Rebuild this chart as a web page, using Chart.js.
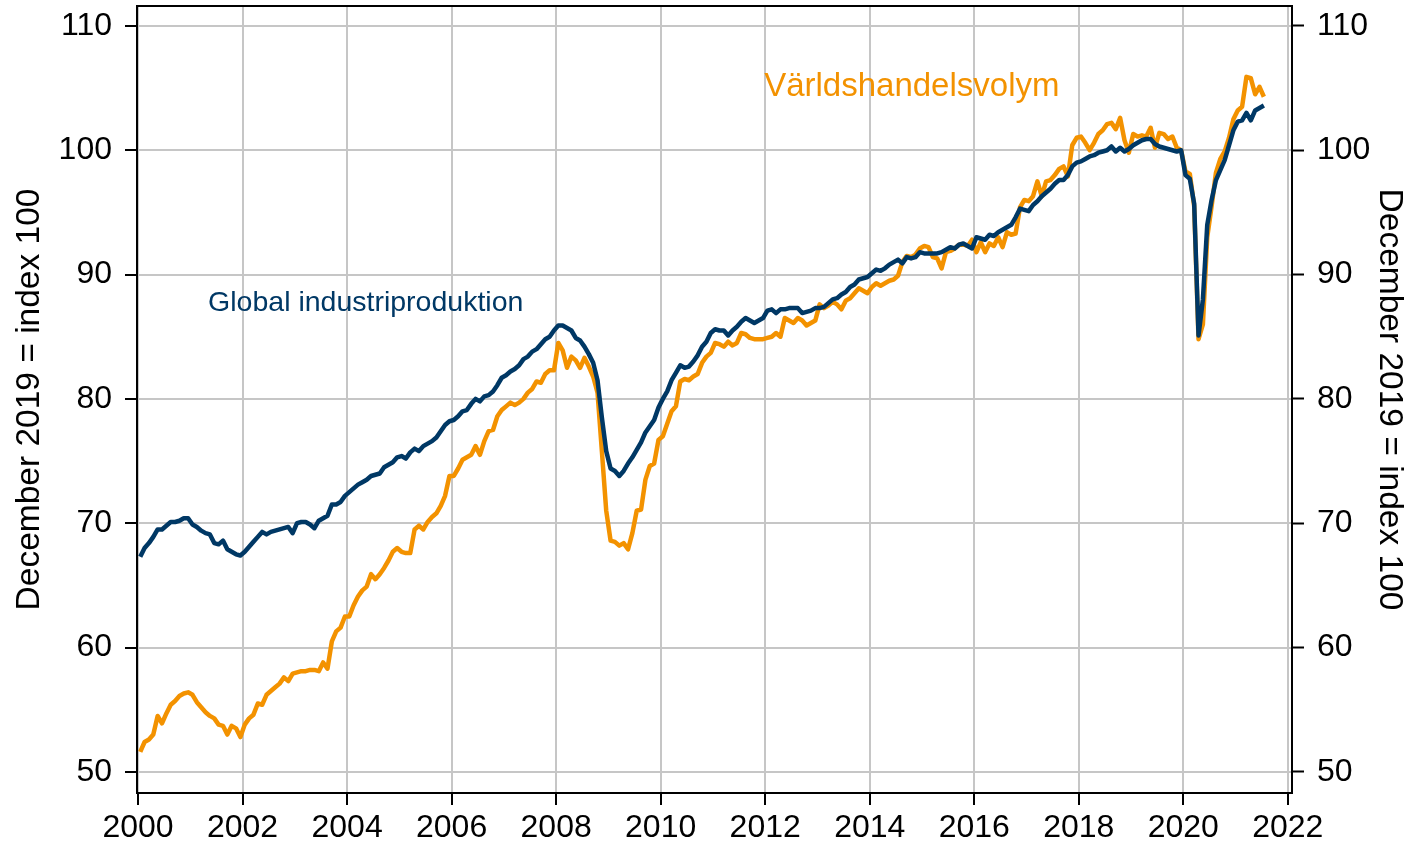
<!DOCTYPE html>
<html>
<head>
<meta charset="utf-8">
<title>Världshandel och industriproduktion</title>
<script src="https://cdn.jsdelivr.net/npm/chart.js@4.4.1/dist/chart.umd.min.js"></script>
<style>
  body { margin: 0; background: #fff; }
  #mycanvas { display: block; }
</style>
</head>
<body>
<canvas id="mycanvas" width="1409" height="846"></canvas>
<script>
// monthly data, Jan 2000 - Jul 2021, December 2019 = 100
var startYear = 2000;
var xTicks = [2000, 2002, 2004, 2006, 2008, 2010, 2012, 2014, 2016, 2018, 2020, 2022];
var yTicks = [50, 60, 70, 80, 90, 100, 110];

var industriproduktion = [
  67.3, 68.0, 68.4, 68.9, 69.5, 69.5, 69.8, 70.1, 70.1, 70.2, 70.4, 70.4,
  69.9, 69.7, 69.4, 69.2, 69.1, 68.4, 68.3, 68.6, 67.9, 67.7, 67.5, 67.4,
  67.7, 68.1, 68.5, 68.9, 69.3, 69.1, 69.3, 69.4, 69.5, 69.6, 69.7, 69.2,
  70.0, 70.1, 70.1, 69.9, 69.6, 70.2, 70.4, 70.6, 71.5, 71.5, 71.7, 72.2,
  72.5, 72.8, 73.1, 73.3, 73.5, 73.8, 73.9, 74.0, 74.5, 74.7, 74.9, 75.3,
  75.4, 75.2, 75.7, 76.0, 75.8, 76.2, 76.4, 76.6, 76.9, 77.4, 77.9, 78.2,
  78.3, 78.6, 79.0, 79.1, 79.6, 80.0, 79.8, 80.2, 80.3, 80.6, 81.1, 81.7,
  81.9, 82.2, 82.4, 82.7, 83.2, 83.4, 83.8, 84.0, 84.4, 84.8, 85.0, 85.5,
  85.9, 85.9, 85.7, 85.5, 84.9, 84.7, 84.2, 83.6, 82.9, 81.5, 78.5, 75.8,
  74.4, 74.2, 73.8, 74.2, 74.8, 75.3, 75.9, 76.5, 77.3, 77.8, 78.3, 79.3,
  80.0, 80.6, 81.5, 82.1, 82.7, 82.5, 82.6, 83.0, 83.5, 84.2, 84.6, 85.3,
  85.6, 85.5, 85.5, 85.1, 85.5, 85.8, 86.2, 86.5, 86.3, 86.1, 86.3, 86.5,
  87.1, 87.2, 86.9, 87.2, 87.2, 87.3, 87.3, 87.3, 86.9, 87.0, 87.1, 87.3,
  87.3, 87.4, 87.7, 88.0, 88.1, 88.4, 88.6, 89.0, 89.2, 89.6, 89.7, 89.8,
  90.1, 90.4, 90.3, 90.5, 90.8, 91.0, 91.2, 90.9, 91.4, 91.3, 91.4, 91.8,
  91.7, 91.7, 91.7, 91.7, 91.8, 92.0, 92.2, 92.1, 92.4, 92.5, 92.3, 92.1,
  93.0, 92.9, 92.8, 93.2, 93.1, 93.4, 93.6, 93.8, 94.0, 94.6, 95.3, 95.2,
  95.1, 95.6, 95.9, 96.3, 96.6, 96.9, 97.3, 97.6, 97.6, 98.0, 98.7, 99.0,
  99.1, 99.3, 99.5, 99.6, 99.8, 99.9, 100.0, 100.3, 99.9, 100.2, 99.9, 100.1,
  100.4, 100.6, 100.8, 100.9, 100.9, 100.5, 100.3, 100.2, 100.1, 100.0, 99.9, 100.0,
  98.0, 97.7, 95.7, 85.1, 88.0, 94.0, 96.0, 97.6, 98.4, 99.2, 100.4, 101.6,
  102.3, 102.4, 103.0, 102.4, 103.2, 103.4, 103.6
];

var handelsvolym = [
  51.6, 52.4, 52.6, 53.0, 54.5, 53.9, 54.7, 55.4, 55.7, 56.1, 56.3, 56.4,
  56.2, 55.6, 55.2, 54.8, 54.5, 54.3, 53.8, 53.7, 53.0, 53.7, 53.5, 52.8,
  53.8, 54.3, 54.6, 55.5, 55.4, 56.2, 56.5, 56.8, 57.1, 57.6, 57.3, 57.9,
  58.0, 58.1, 58.1, 58.2, 58.2, 58.1, 58.8, 58.3, 60.5, 61.3, 61.6, 62.5,
  62.5, 63.4, 64.1, 64.6, 64.9, 65.9, 65.5, 65.9, 66.4, 67.0, 67.7, 68.0,
  67.7, 67.6, 67.6, 69.5, 69.8, 69.5, 70.1, 70.5, 70.8, 71.4, 72.2, 73.8,
  73.8, 74.4, 75.1, 75.3, 75.5, 76.2, 75.5, 76.6, 77.4, 77.5, 78.6, 79.1,
  79.4, 79.7, 79.5, 79.7, 80.0, 80.5, 80.8, 81.4, 81.3, 82.0, 82.3, 82.3,
  84.5, 83.9, 82.5, 83.4, 83.1, 82.5, 83.3, 82.6, 81.8, 80.5, 75.8, 71.0,
  68.6, 68.5, 68.2, 68.4, 67.9, 69.2, 71.0, 71.1, 73.5, 74.6, 74.8, 76.7,
  77.0, 78.0, 79.0, 79.4, 81.4, 81.6, 81.5, 81.8, 82.0, 82.9, 83.4, 83.7,
  84.5, 84.4, 84.2, 84.6, 84.3, 84.5, 85.3, 85.2, 84.9, 84.8, 84.8, 84.8,
  84.9, 85.0, 85.3, 85.0, 86.5, 86.3, 86.1, 86.5, 86.3, 85.9, 86.1, 86.3,
  87.6, 87.3, 87.5, 87.8, 87.6, 87.2, 87.9, 88.1, 88.5, 88.9, 88.7, 88.5,
  89.0, 89.3, 89.1, 89.3, 89.5, 89.6, 89.9, 91.0, 91.5, 91.4, 91.6, 92.1,
  92.3, 92.2, 91.4, 91.3, 90.5, 91.8, 91.9, 92.1, 92.4, 92.4, 92.3, 92.8,
  91.8, 92.6, 91.8, 92.5, 92.3, 93.0, 92.2, 93.4, 93.2, 93.3, 95.4, 96.0,
  95.9, 96.3, 97.5, 96.3, 97.5, 97.6, 98.0, 98.5, 98.7, 97.9, 100.4, 101.0,
  101.1, 100.6, 100.0, 100.6, 101.3, 101.6, 102.1, 102.2, 101.7, 102.6, 100.8, 99.8,
  101.3, 101.1, 101.2, 101.1, 101.8, 100.2, 101.4, 101.3, 100.9, 101.1, 100.2, 100.0,
  98.3, 98.1, 95.5, 84.8, 86.0, 93.0, 95.5, 98.2, 99.3, 99.9, 101.0, 102.5,
  103.2, 103.5, 105.9, 105.8, 104.5, 105.1, 104.3
];

var blue = '#003865';
var orange = '#f39200';
var fontFamily = '"Liberation Sans", Arial, sans-serif';

// months sit in the middle of each month on a decimal-year axis
function toPoints(values) {
  var pts = [];
  for (var i = 0; i < values.length; i++) {
    pts.push({ x: startYear + (i + 0.5) / 12, y: values[i] });
  }
  return pts;
}

// text labels next to the lines, placed in data units
var seriesLabels = [
  { text: 'Världshandelsvolym', x: 2011.98, y: 104.37, color: orange, size: 33 },
  { text: 'Global industriproduktion', x: 2001.34, y: 87.05, color: blue, size: 28.5 }
];

var labelPlugin = {
  id: 'seriesLabels',
  afterDatasetsDraw: function(chart) {
    var ctx = chart.ctx;
    ctx.save();
    ctx.textAlign = 'left';
    ctx.textBaseline = 'alphabetic';
    seriesLabels.forEach(function(l) {
      ctx.fillStyle = l.color;
      ctx.font = l.size + 'px ' + fontFamily;
      ctx.fillText(l.text, chart.scales.x.getPixelForValue(l.x), chart.scales.y.getPixelForValue(l.y));
    });
    ctx.restore();
  }
};

var framePlugin = {
  id: 'frame',
  afterDraw: function(chart) {
    var a = chart.chartArea, ctx = chart.ctx;
    ctx.save();
    ctx.strokeStyle = '#000';
    ctx.lineWidth = 2;
    ctx.strokeRect(a.left, a.top, a.right - a.left, a.bottom - a.top);
    ctx.restore();
  }
};

function setTicks(list) {
  return function(scale) {
    scale.ticks = list.map(function(v) { return { value: v }; });
  };
}

// fixed axis sizes so the plot box lands where the original has it
function fixSize(w, h) {
  return function(s) {
    if (w) s.width = w;
    if (h) s.height = h;
    s.paddingTop = 0;
    s.paddingBottom = 0;
    s.paddingLeft = 0;
    s.paddingRight = 0;
  };
}

Chart.defaults.font.family = fontFamily;
Chart.defaults.color = '#000';

var gridOpts = {
  color: '#c6c6c6',
  lineWidth: 2,
  tickColor: '#000',
  tickWidth: 2,
  tickLength: 12
};

var ctx = document.getElementById('mycanvas');
var chart = new Chart(ctx, {
  type: 'line',
  data: {
    datasets: [
      {
        label: 'Global industriproduktion',
        data: toPoints(industriproduktion),
        borderColor: blue,
        borderWidth: 4.5,
        pointRadius: 0,
        tension: 0,
        borderJoinStyle: 'round',
        fill: false
      },
      {
        label: 'Världshandelsvolym',
        data: toPoints(handelsvolym),
        borderColor: orange,
        borderWidth: 4.5,
        pointRadius: 0,
        tension: 0,
        borderJoinStyle: 'round',
        fill: false
      }
    ]
  },
  options: {
    responsive: false,
    animation: false,
    layout: { padding: { top: 6, left: 0, right: 0, bottom: 0 } },
    plugins: {
      legend: { display: false },
      tooltip: { enabled: false }
    },
    scales: {
      x: {
        type: 'linear',
        min: 1999.98,
        max: 2022.08,
        afterBuildTicks: setTicks(xTicks),
        afterFit: fixSize(0, 53),
        grid: gridOpts,
        border: { display: false },
        ticks: {
          font: { size: 32 },
          padding: 4,
          maxRotation: 0,
          autoSkip: false,
          callback: function(v) { return String(v); }
        }
      },
      y: {
        position: 'left',
        min: 48.3,
        max: 111.6,
        afterBuildTicks: setTicks(yTicks),
        afterFit: fixSize(137, 0),
        grid: gridOpts,
        border: { display: false },
        ticks: { font: { size: 32 }, padding: 13 },
        title: {
          display: true,
          text: 'December 2019 = index 100',
          font: { size: 33.5 },
          padding: { top: 10, bottom: 0 }
        }
      },
      y2: {
        position: 'right',
        min: 48.3,
        max: 111.6,
        afterBuildTicks: setTicks(yTicks),
        afterFit: fixSize(117, 0),
        grid: {
          drawOnChartArea: false,
          tickColor: '#000',
          tickWidth: 2,
          tickLength: 12
        },
        border: { display: false },
        ticks: { font: { size: 32 }, padding: 13 },
        title: {
          display: true,
          text: 'December 2019 = index 100',
          font: { size: 33.5 },
          padding: { top: 0, bottom: 0 }
        }
      }
    }
  },
  plugins: [labelPlugin, framePlugin]
});
</script>
</body>
</html>
